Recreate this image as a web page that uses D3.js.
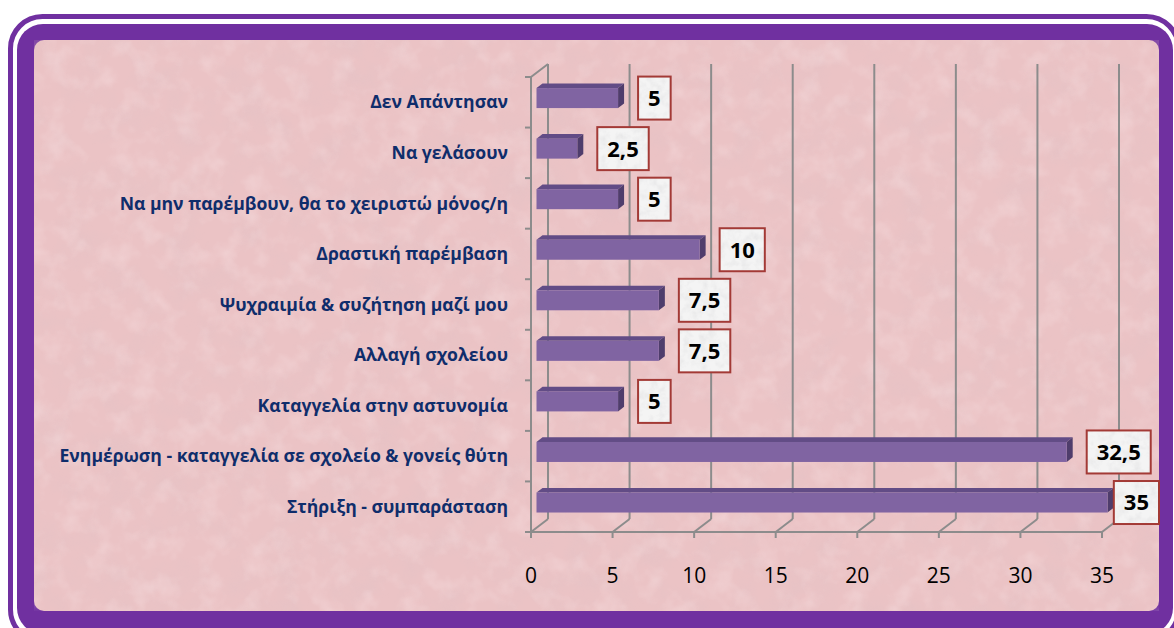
<!DOCTYPE html>
<html>
<head>
<meta charset="utf-8">
<script src="https://cdn.jsdelivr.net/npm/d3@7"></script>
<style>
  html, body { margin: 0; padding: 0; background: #fff; }
  svg { display: block; }
</style>
</head>
<body>
<div id="chart"></div>
<script>
// data, top bar first
const categories = [
  "Δεν Απάντησαν",
  "Να γελάσουν",
  "Να μην παρέμβουν, θα το χειριστώ μόνος/η",
  "Δραστική παρέμβαση",
  "Ψυχραιμία & συζήτηση μαζί μου",
  "Αλλαγή σχολείου",
  "Καταγγελία στην αστυνομία",
  "Ενημέρωση - καταγγελία σε σχολείο & γονείς θύτη",
  "Στήριξη - συμπαράσταση"
];
const values = [5, 2.5, 5, 10, 7.5, 7.5, 5, 32.5, 35];
const xTicks = [0, 5, 10, 15, 20, 25, 30, 35];

const width = 1174, height = 628;
const purple = "#7030A0";

const svg = d3.select("#chart").append("svg")
  .attr("width", width)
  .attr("height", height);

const defs = svg.append("defs");

// mottled paper texture for the plot background
const paper = defs.append("filter").attr("id", "paper")
  .attr("x", 0).attr("y", 0).attr("width", 1).attr("height", 1);
paper.append("feTurbulence")
  .attr("type", "fractalNoise").attr("baseFrequency", "0.03")
  .attr("numOctaves", 4).attr("seed", 7).attr("result", "n");
paper.append("feColorMatrix").attr("in", "n").attr("type", "matrix")
  .attr("values", "0 0 0 0 0.74  0 0 0 0 0.54  0 0 0 0 0.57  2.0 0 0 0 -0.85");

const paper2 = defs.append("filter").attr("id", "paper2")
  .attr("x", 0).attr("y", 0).attr("width", 1).attr("height", 1);
paper2.append("feTurbulence")
  .attr("type", "fractalNoise").attr("baseFrequency", "0.045")
  .attr("numOctaves", 3).attr("seed", 21).attr("result", "n");
paper2.append("feColorMatrix").attr("in", "n").attr("type", "matrix")
  .attr("values", "0 0 0 0 0.98  0 0 0 0 0.86  0 0 0 0 0.87  2.0 0 0 0 -0.9");

// marble-ish texture for the value boxes
const marble = defs.append("filter").attr("id", "marble")
  .attr("x", 0).attr("y", 0).attr("width", 1).attr("height", 1);
marble.append("feTurbulence")
  .attr("type", "fractalNoise").attr("baseFrequency", "0.12")
  .attr("numOctaves", 3).attr("seed", 4).attr("result", "n");
marble.append("feColorMatrix").attr("in", "n").attr("type", "matrix")
  .attr("values", "0 0 0 0 0.6  0 0 0 0 0.6  0 0 0 0 0.62  1.8 0 0 0 -0.75");

// Frame
svg.append("rect")
  .attr("x", 10.5).attr("y", 16.5)
  .attr("width", 1168).attr("height", 625)
  .attr("rx", 32)
  .attr("fill", "none")
  .attr("stroke", purple)
  .attr("stroke-width", 5);

svg.append("rect")
  .attr("x", 17).attr("y", 24)
  .attr("width", 1156).attr("height", 610)
  .attr("rx", 26)
  .attr("fill", purple);

const inner = {x: 34, y: 40, w: 1125, h: 571};
svg.append("rect")
  .attr("x", inner.x).attr("y", inner.y)
  .attr("width", inner.w).attr("height", inner.h)
  .attr("rx", 10)
  .attr("fill", "#ebc3c5");
svg.append("rect")
  .attr("x", inner.x).attr("y", inner.y)
  .attr("width", inner.w).attr("height", inner.h)
  .attr("rx", 10)
  .attr("filter", "url(#paper)")
  .attr("opacity", 0.35);
svg.append("rect")
  .attr("x", inner.x).attr("y", inner.y)
  .attr("width", inner.w).attr("height", inner.h)
  .attr("rx", 10)
  .attr("filter", "url(#paper2)")
  .attr("opacity", 0.3);

// scales
const x = d3.scaleLinear().domain([0, 35]).range([531, 1102]);
const y = d3.scaleBand().domain(categories).range([77, 532]);

// 3D depth
const depthX = 17, depthY = -13;
const slope = depthY / depthX;
const barFront = 5.5, barBack = 11.5;
const barH = 20;

const g = svg.append("g");
const gridColor = "#8c8c8c";

// back wall gridlines
g.selectAll(".grid")
  .data(xTicks)
  .enter()
  .append("line")
  .attr("class", "grid")
  .attr("x1", d => x(d) + depthX).attr("x2", d => x(d) + depthX)
  .attr("y1", 77 + depthY).attr("y2", 532 + depthY)
  .attr("stroke", gridColor).attr("stroke-width", 2);

// floor diagonals
g.selectAll(".floor")
  .data(xTicks)
  .enter()
  .append("line")
  .attr("class", "floor")
  .attr("x1", d => x(d)).attr("y1", 532)
  .attr("x2", d => x(d) + depthX).attr("y2", 532 + depthY)
  .attr("stroke", gridColor).attr("stroke-width", 2);

// front floor line + ticks
g.append("line")
  .attr("x1", x(0)).attr("x2", x(35))
  .attr("y1", 532).attr("y2", 532)
  .attr("stroke", gridColor).attr("stroke-width", 2);
g.selectAll(".xtick")
  .data(xTicks)
  .enter()
  .append("line")
  .attr("x1", d => x(d)).attr("x2", d => x(d))
  .attr("y1", 532).attr("y2", 538)
  .attr("stroke", gridColor).attr("stroke-width", 2);

// left wall
g.append("line")
  .attr("x1", x(0)).attr("x2", x(0))
  .attr("y1", 77).attr("y2", 532)
  .attr("stroke", gridColor).attr("stroke-width", 2);
g.append("line")
  .attr("x1", x(0)).attr("y1", 77)
  .attr("x2", x(0) + depthX).attr("y2", 77 + depthY)
  .attr("stroke", gridColor).attr("stroke-width", 2);
const bounds = categories.map(c => y(c)).concat([532]);
g.selectAll(".ytick")
  .data(bounds)
  .enter()
  .append("line")
  .attr("x1", x(0) - 6).attr("x2", x(0))
  .attr("y1", d => d).attr("y2", d => d)
  .attr("stroke", gridColor).attr("stroke-width", 2);

// x tick labels
g.selectAll(".xlabel")
  .data(xTicks)
  .enter()
  .append("text")
  .attr("x", d => x(d))
  .attr("y", 583)
  .attr("text-anchor", "middle")
  .attr("font-family", "'Open Sans', sans-serif")
  .attr("font-size", 21)
  .attr("fill", "#000")
  .text(d => d);

// category labels
g.selectAll(".ylabel")
  .data(categories)
  .enter()
  .append("text")
  .attr("x", 508)
  .attr("y", d => y(d) + y.bandwidth() / 2)
  .attr("dy", "0.35em")
  .attr("text-anchor", "end")
  .attr("font-family", "'Open Sans', sans-serif")
  .attr("font-weight", 700)
  .attr("font-size", 17.6)
  .attr("fill", "#0f2d6b")
  .text(d => d);

// bars
const bars = g.selectAll(".bar")
  .data(categories.map((c, i) => ({cat: c, value: values[i]})))
  .enter()
  .append("g")
  .attr("class", "bar");

function faceTop(d) {
  return y(d.cat) + y.bandwidth() / 2 + barFront * slope - barH / 2;
}
const backDx = barBack - barFront, backDy = backDx * slope;

// top face
bars.append("path")
  .attr("d", d => {
    const x0 = x(0) + barFront, x1 = x(d.value) + barFront, t = faceTop(d);
    return `M${x0},${t}L${x0 + backDx},${t + backDy}L${x1 + backDx},${t + backDy}L${x1},${t}Z`;
  })
  .attr("fill", "#624c86");
// side face
bars.append("path")
  .attr("d", d => {
    const x1 = x(d.value) + barFront, t = faceTop(d);
    return `M${x1},${t}L${x1 + backDx},${t + backDy}L${x1 + backDx},${t + backDy + barH}L${x1},${t + barH}Z`;
  })
  .attr("fill", "#4f3d6c");
// front face
bars.append("rect")
  .attr("x", x(0) + barFront)
  .attr("y", d => faceTop(d))
  .attr("width", d => x(d.value) - x(0))
  .attr("height", barH)
  .attr("fill", "#8064a2");

// value labels
const boxH = 43, padX = 10, rightLimit = inner.x + inner.w;
const labels = g.selectAll(".vlabel")
  .data(categories.map((c, i) => ({cat: c, value: values[i]})))
  .enter()
  .append("g")
  .attr("class", "vlabel");

labels.each(function(d) {
  const el = d3.select(this);
  const cy = faceTop(d) + barH / 2;
  const txt = el.append("text")
    .attr("font-family", "'Open Sans', sans-serif")
    .attr("font-weight", 700)
    .attr("font-size", 22)
    .attr("fill", "#000")
    .attr("text-anchor", "middle")
    .attr("dy", "0.36em")
    .text(String(d.value).replace(".", ","));
  const tw = txt.node().getComputedTextLength();
  const bw = tw + padX * 2;
  let bx = x(d.value) + barBack + 14;
  if (bx + bw > rightLimit) bx = rightLimit - bw;
  el.insert("rect", "text")
    .attr("x", bx).attr("y", cy - boxH / 2)
    .attr("width", bw).attr("height", boxH)
    .attr("fill", "#f4f4f4");
  el.insert("rect", "text")
    .attr("x", bx).attr("y", cy - boxH / 2)
    .attr("width", bw).attr("height", boxH)
    .attr("filter", "url(#marble)")
    .attr("opacity", 0.35);
  el.insert("rect", "text")
    .attr("x", bx).attr("y", cy - boxH / 2)
    .attr("width", bw).attr("height", boxH)
    .attr("fill", "none")
    .attr("stroke", "#a33a36")
    .attr("stroke-width", 2);
  txt.attr("x", bx + bw / 2).attr("y", cy);
});
</script>
</body>
</html>
